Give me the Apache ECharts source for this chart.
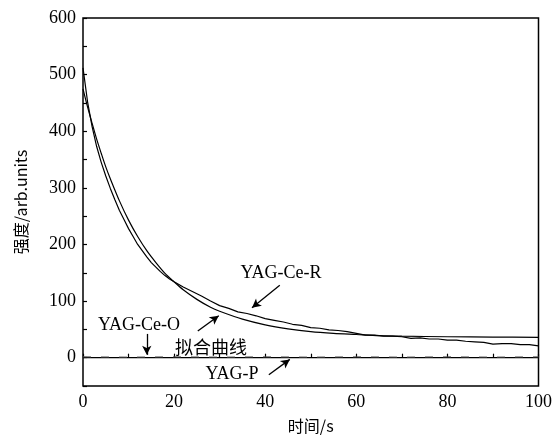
<!DOCTYPE html>
<html>
<head>
<meta charset="utf-8">
<script src="https://cdn.jsdelivr.net/npm/echarts@6/dist/echarts.min.js"></script>
<style>
  html, body { margin: 0; padding: 0; background: #fff; }
  #main { width: 555px; height: 439px; }
</style>
</head>
<body>
<div id="main"></div>
<script>
// YAG-Ce-R measured decay
const rTime = [0, 1, 2, 3, 4, 5, 6, 7, 8, 9, 10, 11, 12, 13, 14, 15, 16, 17, 18, 19, 20,
  22, 24, 26, 28, 30, 32, 34, 36, 38, 40, 42, 44, 46, 48, 50, 52, 54, 56, 58, 60,
  62, 64, 66, 68, 70, 72, 74, 76, 78, 80, 82, 84, 86, 88, 90, 92, 94, 96, 98, 100]
const rValue = [512, 452, 408, 373, 345, 321, 299, 279, 260, 244, 228, 214, 200, 189, 178, 168, 160, 152, 145, 139, 134,
  125, 117, 109, 100, 92, 87, 81, 78, 74, 69, 66, 63, 59, 57, 53, 52, 49, 48, 46, 43,
  40, 40, 38, 38, 37, 34, 35, 33, 33, 31, 31, 29, 28, 27, 24, 25, 25, 23, 23, 21]
// 拟合曲线
const fitTime = [0, 1, 2, 3, 4, 5, 6, 8, 10, 12, 14, 16, 18, 20, 22, 25, 28, 30, 35, 40, 45, 50, 55, 60, 65, 70, 80, 90, 100]
const fitValue = [475, 443, 414, 386, 361, 337, 316, 277, 243, 214, 189, 168, 149, 134, 120, 103, 89, 82, 68, 58, 51, 46, 43, 41, 39, 38, 37, 36.5, 36]
// YAG-Ce-O and YAG-P (near zero)
const oTime = [0, 10, 20, 30, 40, 50, 60, 70, 80, 90, 100]
const oValue = [1.5, 1, 1.5, 1, 1.5, 1, 1.5, 1, 1.5, 1, 1.5]
const pTime = [0, 25, 50, 75, 100]
const pValue = [0, 0, 0, 0, 0]

const xTicks = [0, 20, 40, 60, 80, 100]
const xMinorTicks = [0, 10, 20, 30, 40, 50, 60, 70, 80, 90, 100]
const yTicks = [0, 100, 200, 300, 400, 500, 600]
const yMinorTicks = [-50, 0, 50, 100, 150, 200, 250, 300, 350, 400, 450, 500, 550, 600]

const serif = 'Liberation Serif'
const cjk = 'Noto Sans CJK SC'

function pairs(xs, ys) {
  return xs.map((x, i) => [x, ys[i]])
}

function arrow(from, to, curve) {
  return {
    type: 'line',
    data: [],
    silent: true,
    markLine: {
      silent: true,
      symbol: ['none', 'arrow'],
      symbolSize: [7, 9],
      label: { show: false },
      lineStyle: { color: '#000', width: 1.3, type: 'solid', curveness: curve || 0 },
      data: [[{ coord: from }, { coord: to }]]
    }
  }
}

const chart = echarts.init(document.getElementById('main'))
chart.setOption({
  animation: false,
  backgroundColor: '#fff',
  grid: {
    left: 83, right: 16, top: 18, bottom: 52,
    show: true, borderColor: '#000', borderWidth: 1.5
  },
  xAxis: {
    type: 'value', min: 0, max: 100,
    name: '时间/s', nameLocation: 'middle', nameGap: 32,
    nameTextStyle: { fontFamily: cjk, fontSize: 16, color: '#000' },
    axisLine: { show: false },
    splitLine: { show: false },
    axisTick: { inside: true, length: 4, customValues: xMinorTicks, lineStyle: { color: '#000', width: 1.2 } },
    axisLabel: { customValues: xTicks, fontFamily: serif, fontSize: 18, color: '#000', margin: 7 }
  },
  yAxis: {
    type: 'value', min: -50, max: 600,
    name: '强度/arb.units', nameLocation: 'middle', nameGap: 54, nameRotate: 90,
    nameTextStyle: { fontFamily: cjk, fontSize: 16, color: '#000' },
    axisLine: { show: false },
    splitLine: { show: false },
    axisTick: { inside: true, length: 4, customValues: yMinorTicks, lineStyle: { color: '#000', width: 1.2 } },
    axisLabel: { customValues: yTicks, fontFamily: serif, fontSize: 18, color: '#000', margin: 7 }
  },
  series: [
    {
      name: 'YAG-P', type: 'line', data: pairs(pTime, pValue), showSymbol: false,
      lineStyle: { color: '#000', width: 1.2 }
    },
    {
      name: 'YAG-Ce-O', type: 'line', data: pairs(oTime, oValue), showSymbol: false,
      lineStyle: { color: '#555', width: 1, type: [8, 10] }
    },
    {
      name: '拟合曲线', type: 'line', data: pairs(fitTime, fitValue), showSymbol: false, smooth: 0.3,
      lineStyle: { color: '#000', width: 1.2 }
    },
    {
      name: 'YAG-Ce-R', type: 'line', data: pairs(rTime, rValue), showSymbol: false,
      lineStyle: { color: '#000', width: 1.2 }
    },
    arrow([43.2, 128], [37.1, 88]),
    arrow([25.2, 47], [29.8, 74]),
    arrow([14, 42], [14, 5]),
    arrow([40.8, -30], [45.4, -3], -0.3)
  ],
  graphic: [
    { type: 'text', x: 281, y: 273, style: { text: 'YAG-Ce-R', font: '18px "Liberation Serif"', fill: '#000', textAlign: 'center', textVerticalAlign: 'middle' } },
    { type: 'text', x: 139, y: 325, style: { text: 'YAG-Ce-O', font: '18px "Liberation Serif"', fill: '#000', textAlign: 'center', textVerticalAlign: 'middle' } },
    { type: 'text', x: 211, y: 347, style: { text: '拟合曲线', font: '18px "Noto Sans CJK SC"', fill: '#000', textAlign: 'center', textVerticalAlign: 'middle' } },
    { type: 'text', x: 232, y: 374, style: { text: 'YAG-P', font: '18px "Liberation Serif"', fill: '#000', textAlign: 'center', textVerticalAlign: 'middle' } }
  ]
})
</script>
</body>
</html>
